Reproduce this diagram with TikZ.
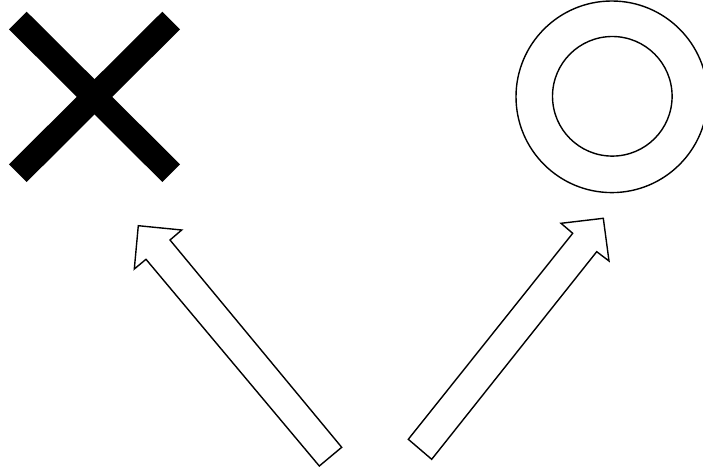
\documentclass[tikz,border=0pt]{standalone}
\begin{document}
\begin{tikzpicture}[x=1pt,y=-1pt,
  bar/.style={line width=25pt,line cap=butt},
  ring/.style={draw=black,line width=1.4pt},
  blockarrow/.style={draw=black,fill=white,line width=1.4pt,line join=miter}]
\useasboundingbox (0,0) rectangle (703,470);
% cross
\draw[bar] (17.8,20.5) -- (171.2,173.2);
\draw[bar] (171.2,20.5) -- (17.8,173.2);
% circles
\draw[ring] (611.8,96.8) circle[radius=95.8];
\draw[ring] (612.3,96.3) circle[radius=59.8];
% left arrow
\draw[blockarrow] (138.3,225.7) -- (181.7,230) -- (170,240) -- (341.7,447.3)
  -- (319.3,466) -- (146,259.3) -- (134.3,269) -- cycle;
% right arrow
\draw[blockarrow] (603.3,218.3) -- (609,261) -- (596.7,251.7) -- (431.7,459.3)
  -- (408.3,439.3) -- (572.7,233.3) -- (561,223.3) -- cycle;
\end{tikzpicture}
\end{document}
